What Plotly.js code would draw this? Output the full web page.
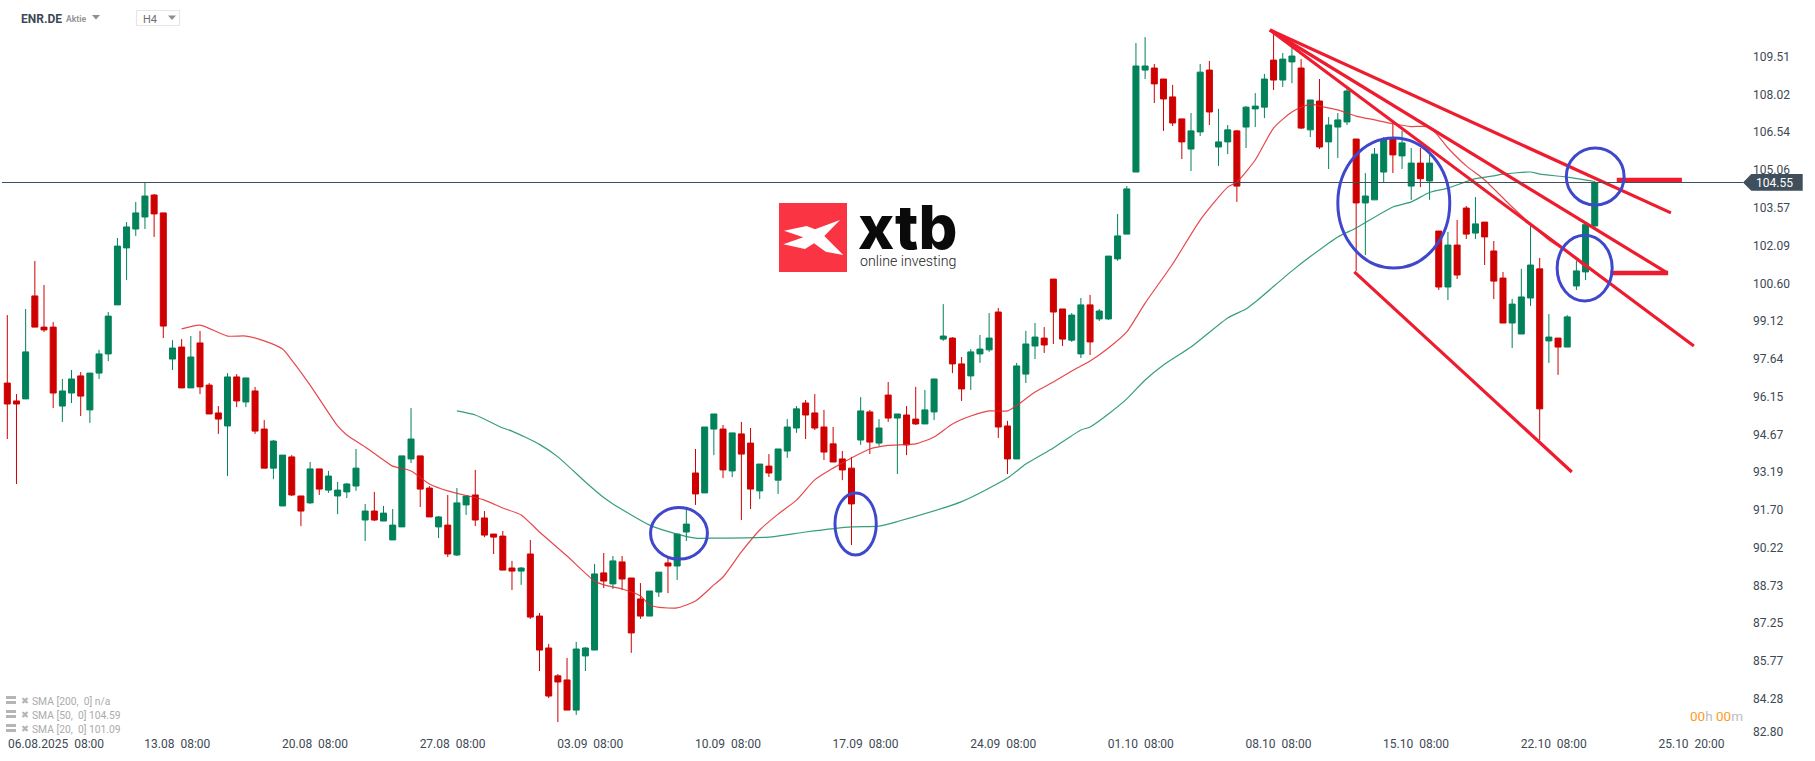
<!DOCTYPE html>
<html><head><meta charset="utf-8">
<style>html,body{margin:0;padding:0;background:#fff;overflow:hidden}#c{width:1815px;height:761px}</style>
<script src="https://cdn.plot.ly/plotly-3.0.1.min.js"></script>
</head><body><div id="c"></div>
<script>
const open_ = [96.70,96.00,96.08,100.11,98.89,98.89,95.80,96.31,96.98,95.65,97.09,97.84,99.76,101.99,102.73,103.20,104.06,103.36,97.64,98.11,96.51,98.27,96.62,95.53,95.02,96.94,95.96,96.39,94.90,93.37,91.89,93.81,92.28,92.01,93.34,92.51,92.28,92.44,92.67,91.34,91.69,91.30,90.56,91.07,93.73,93.85,92.59,91.07,91.14,89.97,91.93,92.32,91.42,90.79,90.71,89.46,89.34,90.01,87.58,86.33,85.24,85.08,83.90,86.02,86.25,89.27,88.84,89.70,89.07,88.25,87.58,88.52,89.66,89.54,90.87,93.18,92.40,94.90,94.90,93.26,94.71,94.35,92.48,93.45,92.90,94.04,94.94,95.92,95.53,94.98,94.32,93.73,93.37,94.47,95.57,94.35,96.23,95.33,95.45,95.29,95.10,95.57,98.42,98.46,97.45,96.98,97.84,98.00,99.48,95.02,93.73,97.05,98.15,98.46,100.77,99.60,98.38,97.84,99.76,99.21,99.21,101.56,102.53,104.96,108.95,109.03,108.60,107.90,107.04,105.86,106.53,108.95,105.94,106.14,106.57,106.72,107.43,107.50,109.34,108.56,109.27,109.03,106.61,107.74,106.14,106.72,106.92,106.25,103.75,103.87,104.96,106.25,105.59,104.41,105.31,104.61,102.65,100.46,102.10,103.55,102.57,103.00,101.87,100.81,99.05,98.62,100.03,101.17,98.35,98.46,98.11,100.50,101.05,102.85];
const high_ = [99.36,96.27,99.60,101.48,100.54,99.09,96.86,97.21,97.13,97.09,98.00,99.48,102.38,103.00,103.79,104.57,104.10,103.36,98.38,98.42,98.54,98.74,96.70,95.80,97.09,97.05,96.90,96.55,95.25,94.47,93.88,93.88,92.28,93.61,93.34,93.26,92.83,92.79,94.12,91.97,92.44,91.89,91.77,93.85,95.72,93.85,92.67,91.50,92.32,92.59,92.28,93.30,91.69,90.79,90.91,89.74,89.50,90.56,87.70,86.49,85.31,85.94,86.57,86.37,89.62,90.05,89.93,89.93,89.07,88.87,88.56,89.30,89.93,90.79,91.77,94.12,94.98,95.49,95.06,94.75,95.18,94.94,93.53,93.92,94.12,95.29,95.80,96.04,96.27,95.65,94.98,94.04,93.81,96.15,95.65,95.29,96.74,95.49,95.80,96.55,96.43,96.86,99.79,98.50,97.72,98.03,98.58,99.44,99.64,95.22,97.49,98.74,99.05,98.89,100.77,99.60,99.44,100.03,100.15,99.60,101.67,103.32,104.41,110.01,110.24,109.19,108.60,108.37,107.04,107.27,109.19,109.31,107.43,106.80,106.61,107.54,108.05,108.80,110.52,109.62,109.85,109.38,107.78,108.60,107.11,107.27,108.25,106.25,104.92,105.90,106.33,106.96,106.57,105.90,105.90,105.63,102.65,102.61,103.08,103.63,103.98,103.00,102.26,101.05,99.99,101.17,102.90,101.60,99.40,98.46,99.36,101.48,102.90,104.61];
const low_ = [94.51,92.75,96.08,98.89,98.70,95.72,95.18,95.92,95.41,95.14,96.86,97.56,99.76,100.73,102.46,102.73,102.42,98.46,97.21,96.51,96.51,96.27,95.49,94.71,93.06,95.76,95.76,94.71,93.37,92.94,91.89,92.28,91.10,91.97,92.32,92.40,91.57,92.20,92.48,90.52,91.30,91.30,90.56,91.07,93.57,91.85,91.46,90.63,89.89,89.93,91.54,91.10,90.67,90.01,89.38,88.60,88.80,87.47,85.43,84.37,83.43,83.90,83.71,85.43,86.25,88.68,88.64,88.60,86.14,87.47,87.58,88.33,88.48,88.99,90.52,91.93,92.40,93.88,92.98,93.02,91.34,91.77,92.16,93.02,92.36,93.77,94.75,94.51,94.86,93.69,93.61,92.90,90.36,94.28,93.92,94.24,95.18,93.14,93.88,95.06,95.10,95.25,98.35,97.09,96.00,96.43,97.49,97.92,94.55,93.14,93.73,96.70,97.64,97.88,98.23,98.15,98.31,97.68,97.80,99.13,99.17,101.48,102.53,104.96,108.60,107.66,106.57,106.76,105.47,105.00,106.37,106.80,105.20,105.66,103.79,105.90,106.72,107.07,108.17,108.29,108.44,106.64,106.33,105.86,105.08,105.51,106.80,101.09,101.71,103.87,104.57,104.92,105.08,103.87,104.37,103.87,100.34,99.95,100.77,102.34,102.34,101.32,99.99,99.05,98.07,98.62,99.72,94.47,97.49,97.02,98.11,100.34,100.73,102.69];
const close_ = [95.88,95.88,97.92,98.89,98.78,96.31,96.39,96.86,96.19,97.09,97.84,99.32,102.06,102.81,103.36,104.02,103.32,98.93,98.07,96.51,97.72,96.55,95.49,95.29,96.94,96.00,96.90,94.82,93.37,94.43,93.88,92.32,91.69,93.34,92.55,93.06,92.51,92.75,93.37,91.69,91.34,91.61,91.14,93.85,94.51,92.55,91.46,91.46,90.01,92.01,92.28,91.34,90.75,90.67,89.38,89.34,89.46,87.54,86.25,84.45,85.00,83.90,86.29,86.33,89.23,88.95,89.74,89.03,86.92,87.58,88.56,89.30,89.54,90.79,91.18,92.36,94.98,95.49,93.30,94.75,93.92,92.55,93.53,93.18,94.12,94.98,95.69,95.45,94.94,94.00,93.61,93.30,91.97,95.61,94.39,94.94,95.33,95.49,94.28,95.10,95.65,96.86,98.54,97.45,96.47,97.92,98.03,98.46,94.98,93.73,97.37,98.23,98.50,98.19,99.48,98.42,99.36,99.76,98.31,99.52,101.67,102.46,104.30,109.11,109.11,108.41,107.82,106.88,106.14,106.57,108.87,107.31,106.14,106.61,104.41,107.50,107.54,108.60,108.56,109.38,109.50,106.68,107.78,105.94,106.80,107.00,108.13,103.75,104.02,105.66,106.21,105.63,106.10,105.31,104.70,105.31,100.46,102.10,100.93,102.53,102.93,102.42,100.69,99.05,99.79,100.07,101.32,95.69,98.50,98.11,99.29,101.09,102.90,104.55];

const sma20Idx = [19,21,24,26,28,30,31,33,36,37,39,41,42,44,46,48,52,54,56,58,61,64,65,67,69,70,71,73,75,77,78,80,82,84,86,88,90,92,94,96,99,101,103,105,107,109,110,112,114,116,118,120,122,123,124,127,130,133,134,136,138,140,142,143,145,147,149,151,153,155,157,159,161,164,166,168,170,172,173];
const sma20Val = [98.82,98.97,98.54,98.54,98.35,98.03,97.60,96.62,95.02,94.67,94.20,93.69,93.45,93.26,92.75,92.48,92.12,91.81,91.54,90.87,89.93,88.95,88.80,88.64,88.37,88.01,87.92,87.90,88.17,88.80,89.11,90.09,90.95,91.57,92.12,92.91,93.37,93.77,94.12,94.26,94.32,94.59,95.10,95.41,95.61,95.61,95.82,96.35,96.74,97.17,97.56,98.07,98.70,99.25,99.83,101.36,103.08,104.37,104.57,105.43,106.68,107.31,107.62,107.54,107.39,107.15,107.00,106.85,106.74,106.72,105.90,105.20,104.65,103.59,102.93,102.30,101.83,101.24,101.09];
const sma50Idx = [49,51,54,55,58,60,63,65,66,70,73,75,77,83,87,92,95,97,104,109,111,114,117,118,120,122,124,126,129,133,135,136,140,142,145,147,151,153,155,157,160,162,163,166,167,170,173];
const sma50Val = [95.61,95.45,94.94,94.82,94.30,93.81,92.83,92.22,91.97,91.14,90.79,90.63,90.63,90.67,90.87,91.07,91.10,91.28,92.06,92.98,93.53,94.16,94.86,94.98,95.49,96.08,96.82,97.41,98.11,99.25,99.60,99.87,101.09,101.65,102.42,102.77,103.59,103.79,104.16,104.33,104.70,104.81,104.88,104.96,104.88,104.76,104.59];

const trendA = {x:[137.6,181.3], y:[110.52,103.36]};
const trendB = {x:[137.6,180.9], y:[110.52,101.01]};
const trendC = {x:[137.6,183.8], y:[110.52,98.15]};
const trendD = {x:[146.8,170.5], y:[101.05,93.22]};
const stubTop = {x:[175.4,182.5], y:[104.65,104.65]};
const stubLow = {x:[174.7,181.0], y:[101.01,101.01]};
const circles = [[70.1,76.3,89.81,91.83],[90.2,94.7,89.97,92.40],[145.0,157.2,101.20,106.29],[169.9,176.2,103.67,105.90],[168.9,174.9,99.91,102.49]];

const priceTicks = [109.47,108.00,106.52,105.04,103.56,102.08,100.60,99.13,97.65,96.17,94.69,93.22,91.74,90.26,88.78,87.30,85.83,84.35,83.05];
const priceLabels = ['109.51','108.02','106.54','105.06','103.57','102.09','100.60','99.12','97.64','96.15','94.67','93.19','91.70','90.22','88.73','87.25','85.77','84.28','82.80'];
const timeTicks = [5.31,18.53,33.53,48.53,63.53,78.53,93.53,108.53,123.53,138.53,153.53,168.53,183.54];
const timeLabels = ['06.08.2025  08:00','13.08  08:00','20.08  08:00','27.08  08:00','03.09  08:00','10.09  08:00','17.09  08:00','24.09  08:00','01.10  08:00','08.10  08:00','15.10  08:00','22.10  08:00','25.10  20:00'].map(s=>s.replace(/ /g,'\u00a0'));
const lastPrice = 104.55;
const smaLegend = ['SMA [200,\u00a0\u00a00] n/a','SMA [50,\u00a0\u00a00] 104.59','SMA [20,\u00a0\u00a00] 101.09'];

const W=1815,H=761,R=63,B=26,PW=W-R,PH=H-B;
const xp=x=>x/PW, yp=y=>1-y/PH;
const idxs = open_.map((_,i)=>i);
const RED='#cf0000', GREEN='#02825a', TL='#ee1c2e', BL='#3f48cc', DK='#3f4f5b', TXT='#3d4954', GR='#ababab';
const tl=(s,w)=>({type:'scatter',mode:'lines',x:s.x,y:s.y,line:{color:TL,width:w},hoverinfo:'skip'});
const traces=[
 {type:'candlestick',x:idxs,open:open_,high:high_,low:low_,close:close_,whiskerwidth:0,
  increasing:{line:{color:GREEN,width:1},fillcolor:GREEN},decreasing:{line:{color:RED,width:1},fillcolor:RED},hoverinfo:'skip'},
 {type:'scatter',mode:'lines',x:sma20Idx,y:sma20Val,line:{color:'rgba(226,40,45,0.85)',width:1.2,shape:'spline',smoothing:0.6},hoverinfo:'skip'},
 {type:'scatter',mode:'lines',x:sma50Idx,y:sma50Val,line:{color:'rgba(20,140,100,0.85)',width:1.2,shape:'spline',smoothing:0.6},hoverinfo:'skip'},
 tl(trendA,3.2),tl(trendB,3.2),tl(trendC,3.2),tl(trendD,3.2),tl(stubTop,4.5),tl(stubLow,4.5)
];
const pth=pts=>'M'+pts.map(p=>xp(p[0]).toFixed(5)+','+yp(p[1]).toFixed(5)).join(' L')+' Z';
const rect=(x0,y0,x1,y1,fill,line)=>({type:'rect',xref:'paper',yref:'paper',x0:xp(x0),x1:xp(x1),y0:yp(y0),y1:yp(y1),fillcolor:fill||'rgba(0,0,0,0)',line:line||{width:0},layer:'above'});
const poly=(pts,fill)=>({type:'path',xref:'paper',yref:'paper',path:pth(pts),fillcolor:fill,line:{width:0},layer:'above'});
const shapes=[
 {type:'line',xref:'paper',yref:'y',x0:xp(2),x1:xp(1743),y0:lastPrice,y1:lastPrice,line:{color:DK,width:1},layer:'above'},
 poly([[1743,182.5],[1751.3,174],[1802.7,174],[1802.7,190.7],[1751.3,190.7]],DK),
 ...circles.map(c=>({type:'circle',xref:'x',yref:'y',x0:c[0],x1:c[1],y0:c[2],y1:c[3],line:{color:BL,width:3},fillcolor:'rgba(0,0,0,0)',layer:'above'})),
 rect(779,203,847,272,'#fb3444'),
 poly([[784,230.7],[806.7,226],[815,229.3],[840,220],[824.3,236],[843.3,255],[825.7,251.7],[814,243.3],[805,249],[783.3,244.3],[803.3,237.3]],'#ffffff'),
 poly([[92,15],[100,15],[96,19.5]],'#8f8f8f'),
 rect(136.5,10.5,179.5,25.5,'#fff',{color:'#e6e6e6',width:1.2}),
 poly([[168,15.5],[176,15.5],[172,20]],'#8f8f8f')
];
[696,710,724].forEach(y=>{ shapes.push(rect(6,y,16,y+3,'#b5b5b5')); shapes.push(rect(6,y+5,16,y+8,'#b5b5b5')); });
const ann=(x,y,text,size,color,fam,extra)=>Object.assign({xref:'paper',yref:'paper',x:xp(x),y:yp(y),text,showarrow:false,xanchor:'left',yanchor:'middle',borderpad:0,
  font:{family:fam||'Roboto',size,color}},extra||{});
const annotations=[
 ann(1755,183,'104.55',12,'#ffffff'),
 ann(20,18.5,'<b>ENR.DE</b>',12,'#3d4954'),
 ann(65,19,'<b>Aktie</b>',8.6,'#999999'),
 ann(141.5,19,'H4',11,'#6e6e6e'),
 ann(1689,715.5,'<span style="color:#ff9a1f">00</span><span style="color:#bdbdbd">h</span> <span style="color:#ff9a1f">00</span><span style="color:#bdbdbd">m</span>',13.5,'#bdbdbd'),
 Object.assign(ann(857,227,'xtb',61,'#0a0a0a','Inter'),{font:{family:'Inter',size:61,color:'#0a0a0a',weight:800}}),
 Object.assign(ann(859,261,'online investing',14.2,'#222222','Roboto'),{font:{family:'Roboto',size:14.2,color:'#222222',weight:300}})
];
smaLegend.forEach((t,i)=>{
  const y=701.5+i*14;
  annotations.push(ann(31,y,t,10.3,GR));
  annotations.push(ann(19.5,y-1,'\u2716',9.5,'#b5b5b5','DejaVu Sans'));
});
const layout={width:W,height:H,margin:{l:0,r:R,t:0,b:B,pad:0},paper_bgcolor:'#fff',plot_bgcolor:'#fff',showlegend:false,hovermode:false,
 boxgap:0.346,boxgroupgap:0,
 xaxis:{type:'linear',range:[(0-7.3)/9.176,(PW-7.3)/9.176],fixedrange:true,showgrid:false,zeroline:false,showline:false,ticks:'',rangeslider:{visible:false},
   tickmode:'array',tickvals:timeTicks,ticktext:timeLabels,tickangle:0,tickfont:{family:'Roboto',size:12,color:TXT}},
 yaxis:{type:'linear',side:'right',range:[111.693-0.03914*PH,111.693],fixedrange:true,showgrid:false,zeroline:false,showline:false,ticks:'',
   tickmode:'array',tickvals:priceTicks,ticktext:priceLabels,tickfont:{family:'Roboto',size:12,color:TXT}},
 shapes,annotations};
Plotly.newPlot('c',traces,layout,{displayModeBar:false,staticPlot:true});
</script></body></html>
